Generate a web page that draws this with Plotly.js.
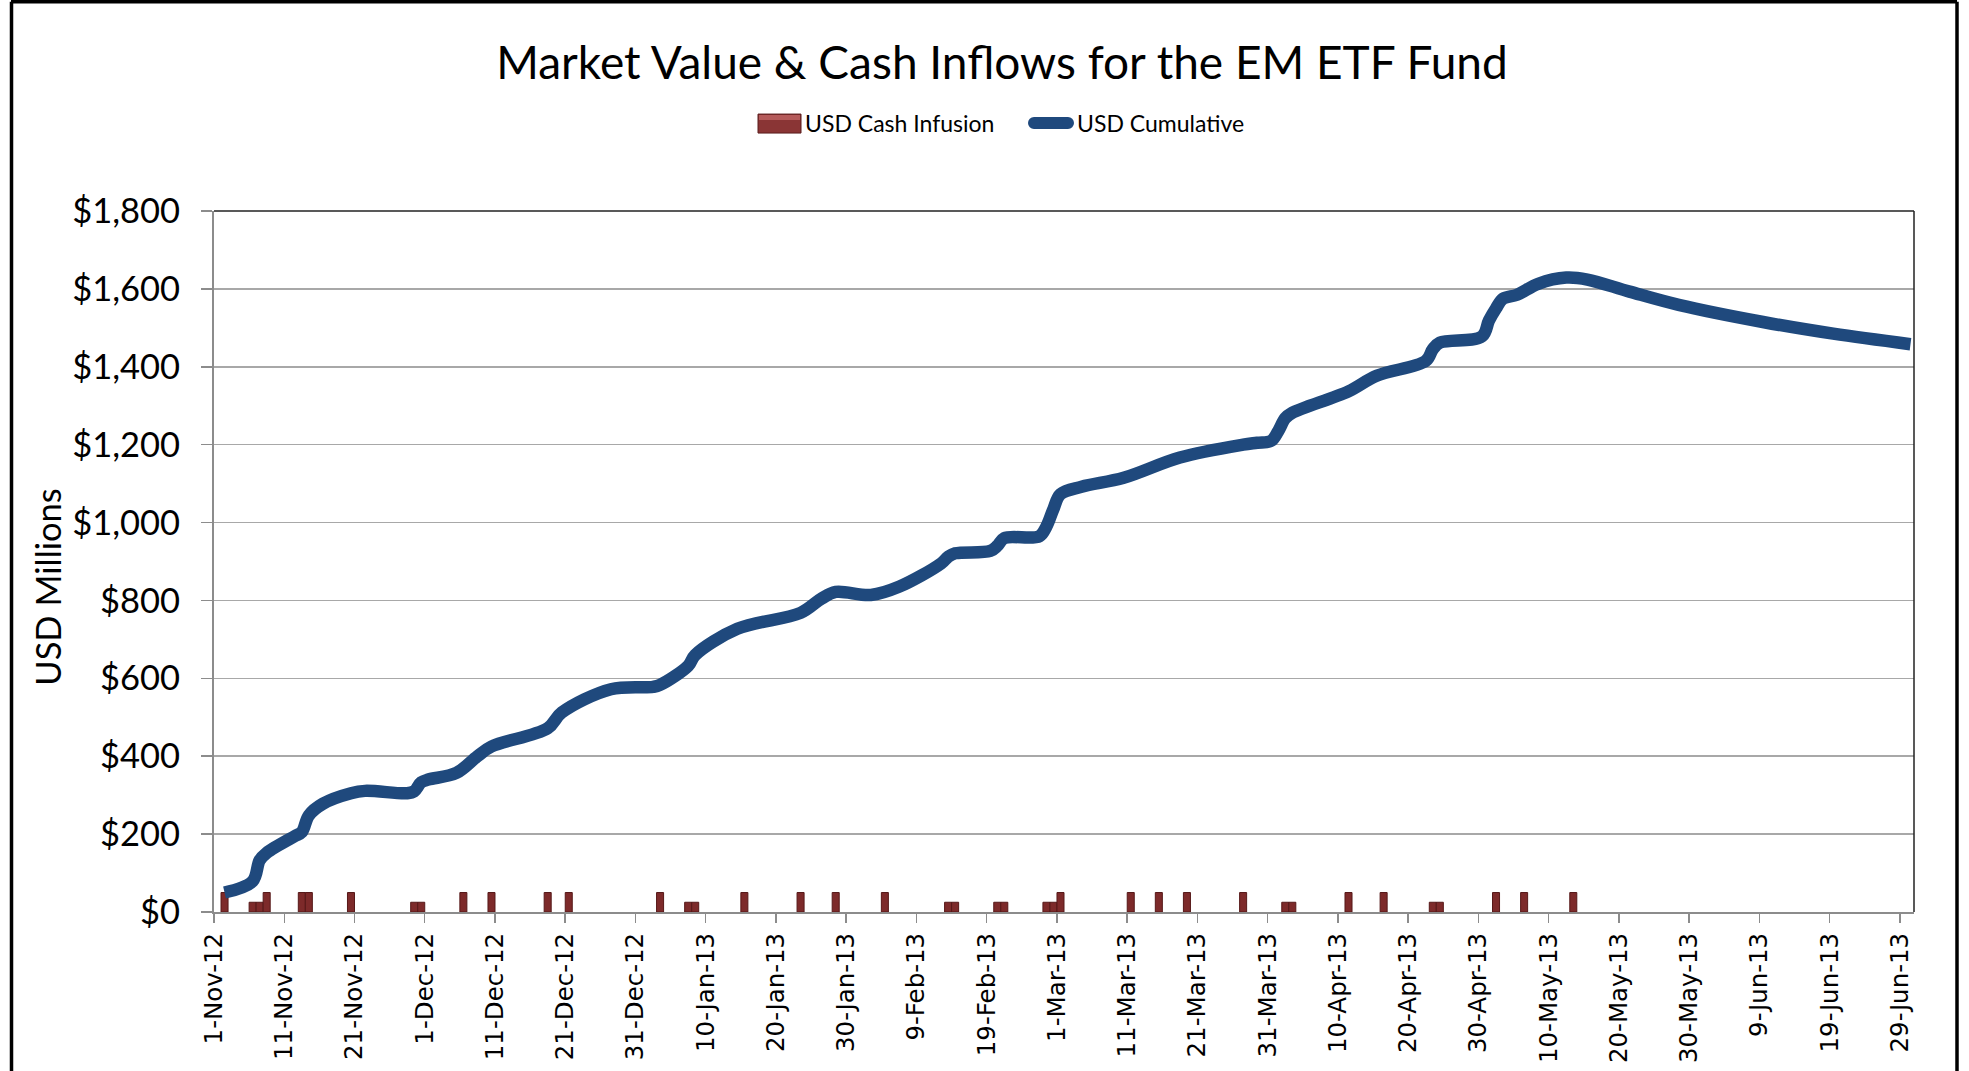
<!DOCTYPE html>
<html>
<head>
<meta charset="utf-8">
<script src="https://cdn.plot.ly/plotly-3.0.1.min.js"></script>
<style>
  html, body { margin: 0; padding: 0; background: #ffffff; }
  #chart { width: 1969px; height: 1071px; }
</style>
</head>
<body>
<div id="chart"></div>
<script>
// ---- Data ----
const flowDates = [
  "2012-11-02","2012-11-06","2012-11-07","2012-11-08","2012-11-13","2012-11-14","2012-11-20",
  "2012-11-29","2012-11-30","2012-12-06","2012-12-10","2012-12-18","2012-12-21",
  "2013-01-03","2013-01-07","2013-01-08","2013-01-15","2013-01-23","2013-01-28",
  "2013-02-04","2013-02-13","2013-02-14","2013-02-20","2013-02-21","2013-02-27","2013-02-28",
  "2013-03-01","2013-03-11","2013-03-15","2013-03-19","2013-03-27",
  "2013-04-02","2013-04-03","2013-04-11","2013-04-16","2013-04-23","2013-04-24",
  "2013-05-02","2013-05-06","2013-05-13"
];
const flowValues = [
  50,25,25,50,50,50,50,
  25,25,50,50,50,50,
  50,25,25,50,50,50,
  50,25,25,25,25,25,25,
  50,50,50,50,50,
  25,25,50,50,25,25,
  50,50,50
];

const cumDates = [
  "2012-11-02","2012-11-06","2012-11-07","2012-11-08","2012-11-12","2012-11-13","2012-11-14",
  "2012-11-16","2012-11-20","2012-11-22","2012-11-28","2012-11-29","2012-11-30","2012-12-01",
  "2012-12-05","2012-12-08","2012-12-10","2012-12-18","2012-12-20","2012-12-27",
  "2013-01-02","2013-01-03","2013-01-07","2013-01-08","2013-01-14","2013-01-23","2013-01-26",
  "2013-01-28","2013-02-02","2013-02-06","2013-02-12","2013-02-13","2013-02-14","2013-02-19",
  "2013-02-20","2013-02-21","2013-02-26","2013-02-27","2013-02-28","2013-03-01","2013-03-04",
  "2013-03-10","2013-03-18","2013-03-27","2013-03-29","2013-03-31","2013-04-01","2013-04-02",
  "2013-04-03","2013-04-11","2013-04-15","2013-04-22","2013-04-23","2013-04-24","2013-04-30",
  "2013-05-01","2013-05-02","2013-05-03","2013-05-05","2013-05-08","2013-05-12","2013-05-15",
  "2013-05-21","2013-05-28","2013-06-09","2013-06-19","2013-06-30"
];
const cumValues = [
  50,79,133,152,195,205,248,
  278,305,311,305,310,333,340,
  357,400,425,472,512,572,
  578,583,632,660,727,768,805,
  822,814,835,895,912,921,927,
  940,960,965,990,1035,1073,1092,
  1115,1167,1200,1205,1210,1235,1268,
  1282,1337,1377,1415,1445,1462,1478,
  1519,1550,1575,1585,1613,1629,1624,
  1593,1559,1515,1485,1458
];

const titleText = "Market Value & Cash Inflows for the EM ETF Fund";
const yTitle = "USD Millions";
const seriesNames = ["USD Cash Infusion", "USD Cumulative"];

// ---- Chart ----
const DAY = 86400000;
const calibriLike = "Lato, 'Open Sans', sans-serif";
const barColor = "#7d2a2a";
const lineColor = "#1F497D";

const traces = [
  {
    type: "bar",
    name: seriesNames[0],
    x: flowDates,
    y: flowValues,
    xperiod: DAY,
    xperiodalignment: "middle",
    width: DAY,
    marker: { color: barColor, line: { color: "#561818", width: 1 } },
    showlegend: false
  },
  {
    type: "scatter",
    mode: "lines",
    name: seriesNames[1],
    x: cumDates,
    y: cumValues,
    xperiod: DAY,
    xperiodalignment: "middle",
    line: { color: lineColor, width: 12.5, shape: "spline", smoothing: 1 },
    showlegend: false
  }
];

const L = 214, R = 55, T = 211, B = 158.5;
const W = 1969, H = 1071;
const pw = W - L - R, ph = H - T - B;
const px = v => (v - L) / pw;
const py = v => (H - B - v) / ph;

const legendFont = { family: calibriLike, size: 23, color: "#000000" };

const layout = {
  width: W, height: H,
  margin: { l: L, r: R, t: T, b: B, pad: 0 },
  paper_bgcolor: "#ffffff",
  plot_bgcolor: "#ffffff",
  showlegend: false,
  bargap: 0,
  title: {
    text: titleText,
    x: 1002 / W, xanchor: "center", xref: "container",
    y: 1 - 63 / H, yanchor: "middle", yref: "container",
    font: { family: calibriLike, size: 46, color: "#000000" }
  },
  xaxis: {
    type: "date",
    range: ["2012-11-01", "2013-07-01"],
    tick0: "2012-11-01",
    dtick: 10 * DAY,
    tickformat: "%-d-%b-%y",
    tickangle: -90,
    tickfont: { family: "'DejaVu Sans', sans-serif", size: 24.5, color: "#000000" },
    ticks: "outside", ticklen: 9, tickwidth: 1.5, tickcolor: "#8c8c8c",
    showline: true, linecolor: "#8c8c8c", linewidth: 2,
    showgrid: false, zeroline: false
  },
  yaxis: {
    range: [0, 1800],
    dtick: 200,
    tickprefix: "$",
    tickformat: ",d",
    tickfont: { family: calibriLike, size: 34.5, color: "#000000" },
    ticks: "outside", ticklen: 11, tickwidth: 1.5, tickcolor: "#8c8c8c",
    ticklabelstandoff: 14,
    showline: true, linecolor: "#8c8c8c", linewidth: 2,
    showgrid: true, gridcolor: "#a8a8a8", gridwidth: 1.5,
    zeroline: false
  },
  annotations: [
    { text: yTitle, xref: "paper", yref: "paper", x: px(48), y: py(587), xanchor: "center", yanchor: "middle",
      textangle: -90, showarrow: false, font: { family: calibriLike, size: 34.5, color: "#000000" } },
    { text: seriesNames[0], xref: "paper", yref: "paper", x: px(803), y: py(123), xanchor: "left", yanchor: "middle",
      showarrow: false, font: legendFont },
    { text: seriesNames[1], xref: "paper", yref: "paper", x: px(1075), y: py(123), xanchor: "left", yanchor: "middle",
      showarrow: false, font: legendFont }
  ],
  shapes: [
    // plot-area border (top and right)
    { type: "line", xref: "paper", yref: "paper", x0: 0, x1: 1, y0: 1, y1: 1, line: { color: "#222222", width: 1.5 } },
    { type: "line", xref: "paper", yref: "paper", x0: 1, x1: 1, y0: 0, y1: 1, line: { color: "#222222", width: 1.5 } },
    // outer chart frame
    { type: "line", xref: "paper", yref: "paper", x0: px(11), x1: px(1957), y0: py(1.5), y1: py(1.5), line: { color: "#000000", width: 3.5 } },
    { type: "line", xref: "paper", yref: "paper", x0: px(11.5), x1: px(11.5), y0: py(1.5), y1: py(1080), line: { color: "#000000", width: 3.5 } },
    { type: "line", xref: "paper", yref: "paper", x0: px(1957), x1: px(1957), y0: py(1.5), y1: py(1080), line: { color: "#000000", width: 3.5 } },
    // legend swatches
    { type: "rect", xref: "paper", yref: "paper", x0: px(758), x1: px(801), y0: py(114), y1: py(133),
      fillcolor: "#8a3535", line: { color: "#5a1c1c", width: 1 } },
    { type: "rect", xref: "paper", yref: "paper", x0: px(759), x1: px(800), y0: py(115), y1: py(120),
      fillcolor: "#b45a5a", line: { width: 0 } },
    { type: "line", xref: "paper", yref: "paper", x0: px(1034), x1: px(1068), y0: py(123), y1: py(123),
      line: { color: lineColor, width: 12 } },
    { type: "circle", xref: "paper", yref: "paper", x0: px(1028), x1: px(1040), y0: py(117), y1: py(129),
      fillcolor: lineColor, line: { width: 0 } },
    { type: "circle", xref: "paper", yref: "paper", x0: px(1062), x1: px(1074), y0: py(117), y1: py(129),
      fillcolor: lineColor, line: { width: 0 } }
  ]
};

Plotly.newPlot("chart", traces, layout, { displayModeBar: false, staticPlot: true });
</script>
</body>
</html>
